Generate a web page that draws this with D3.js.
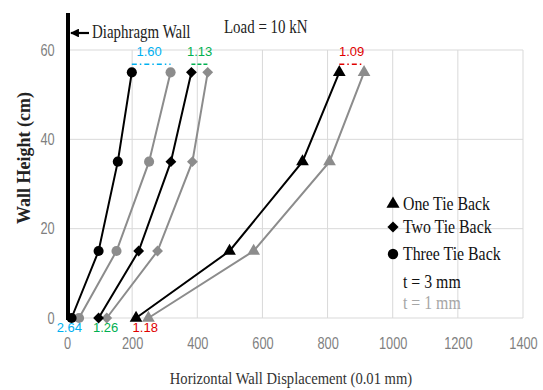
<!DOCTYPE html>
<html>
<head>
<meta charset="utf-8">
<script src="https://cdn.jsdelivr.net/npm/d3@7"></script>
<style>
  html, body { margin: 0; padding: 0; background: #fff; }
  svg { display: block; }
</style>
</head>
<body>
<svg id="chart" width="543" height="390"></svg>
<script>
// Wall heights at which displacements were measured (cm)
const heights = [0, 15, 35, 55];

// Horizontal wall displacement (0.01 mm), thick wall t = 3 mm
const oneTie3 = [212, 499, 723, 836];
const twoTie3 = [97, 220, 319, 382];
const threeTie3 = [14, 97, 156, 199];

// Horizontal wall displacement (0.01 mm), thin wall t = 1 mm
const oneTie1 = [250, 573, 806, 912];
const twoTie1 = [122, 278, 385, 432];
const threeTie1 = [37, 152, 252, 318];

const xTicks = [0, 200, 400, 600, 800, 1000, 1200, 1400];
const yTicks = [0, 20, 40, 60];

const seriesNames = ["One Tie Back", "Two Tie Back", "Three Tie Back"];
const thicknessLabels = ["t = 3 mm", "t = 1 mm"];
const ratioColors = ["#e00000", "#00b050", "#00b0f0"];

const svg = d3.select("#chart");

const x = d3.scaleLinear().domain([0, 1400]).range([67, 523]);
const y = d3.scaleLinear().domain([0, 60]).range([318, 50]);

const sans = "'Liberation Sans', Arial, sans-serif";
const serif = "'Liberation Serif', 'Times New Roman', serif";

// Text drawn with a horizontal squeeze (narrow typeface look)
function narrowText(parent, tx, ty, str, opts) {
  const o = Object.assign({ size: 18, sx: 0.84, fill: "#222", anchor: "start", family: serif, weight: "normal" }, opts);
  return parent.append("text")
    .attr("transform", `translate(${tx},${ty}) scale(${o.sx},1)`)
    .attr("text-anchor", o.anchor)
    .style("font-family", o.family).style("font-size", o.size + "px")
    .style("font-weight", o.weight)
    .attr("fill", o.fill)
    .text(str);
}

// Gridlines
const grid = svg.append("g");
grid.selectAll("line.v").data(xTicks.filter(d => d > 0)).join("line")
  .attr("x1", d => x(d)).attr("x2", d => x(d))
  .attr("y1", y(60)).attr("y2", y(0))
  .attr("stroke", "#d9d9d9").attr("stroke-width", 1);
grid.selectAll("line.h").data(yTicks).join("line")
  .attr("x1", x(0)).attr("x2", x(1400))
  .attr("y1", d => y(d)).attr("y2", d => y(d))
  .attr("stroke", "#d9d9d9").attr("stroke-width", 1);

// Axes (labels only, lines drawn by grid)
const xAxis = svg.append("g")
  .attr("transform", `translate(0,${y(0) + 17})`)
  .call(d3.axisBottom(x).tickValues(xTicks).tickSize(0).tickFormat(d3.format("d")));
const yAxis = svg.append("g")
  .attr("transform", `translate(${x(0) - 10},0)`)
  .call(d3.axisLeft(y).tickValues(yTicks).tickSize(0));
[xAxis, yAxis].forEach(a => {
  a.select(".domain").remove();
  a.selectAll("text").attr("fill", "#7f7f7f")
    .attr("transform", "scale(0.8,1)")
    .style("font-family", sans).style("font-size", "16px");
});

// Axis titles
narrowText(svg, 291, 384, "Horizontal Wall Displacement (0.01 mm)",
  { size: 17, sx: 0.86, anchor: "middle", fill: "#333" });
svg.append("text")
  .attr("transform", `translate(30,158) rotate(-90)`)
  .attr("text-anchor", "middle")
  .style("font-family", serif).style("font-size", "18px").style("font-weight", "bold")
  .attr("fill", "#222")
  .text("Wall Height (cm)");

// Diaphragm wall
svg.append("line")
  .attr("x1", x(0) + 1).attr("x2", x(0) + 1)
  .attr("y1", 13).attr("y2", y(0) + 2)
  .attr("stroke", "#000").attr("stroke-width", 4);
svg.append("defs").append("marker")
  .attr("id", "arrow").attr("viewBox", "0 0 10 10")
  .attr("refX", 9).attr("refY", 5)
  .attr("markerWidth", 4).attr("markerHeight", 4)
  .attr("orient", "auto")
  .append("path").attr("d", "M0,0 L10,5 L0,10 z").attr("fill", "#000");
svg.append("line")
  .attr("x1", 89).attr("x2", 71)
  .attr("y1", 33).attr("y2", 33)
  .attr("stroke", "#000").attr("stroke-width", 2.2)
  .attr("marker-end", "url(#arrow)");
narrowText(svg, 92, 38, "Diaphragm Wall", { size: 18, sx: 0.83 });
narrowText(svg, 224, 33, "Load = 10 kN", { size: 18, sx: 0.83 });

// Marker shapes
const symbols = [d3.symbolTriangle, d3.symbolDiamond2 || d3.symbolDiamond, d3.symbolCircle];
const symbolSizes = [70, 75, 80];

const groups = [
  { idx: 0, thick: oneTie3, thin: oneTie1 },
  { idx: 1, thick: twoTie3, thin: twoTie1 },
  { idx: 2, thick: threeTie3, thin: threeTie1 }
];

const line = d3.line().x(d => x(d[0])).y(d => y(d[1]));

function drawSeries(values, color, idx) {
  const pts = values.map((v, i) => [v, heights[i]]);
  svg.append("path").datum(pts)
    .attr("d", line).attr("fill", "none")
    .attr("stroke", color).attr("stroke-width", 2);
  svg.append("g").selectAll("path").data(pts).join("path")
    .attr("transform", d => `translate(${x(d[0])},${y(d[1])})`)
    .attr("d", d3.symbol().type(symbols[idx]).size(symbolSizes[idx]))
    .attr("fill", color);
}

groups.forEach(g => {
  drawSeries(g.thin, "#8c8c8c", g.idx);
  drawSeries(g.thick, "#000", g.idx);
});

// Ratio of thin to thick wall displacement at top and bottom
const fmt = d3.format(".2f");
const botShift = [3, 3, -6];
groups.forEach(g => {
  const c = ratioColors[g.idx];
  const last = heights.length - 1;
  const top = g.thin[last] / g.thick[last];
  const bot = g.thin[0] / g.thick[0];
  svg.append("line")
    .attr("x1", x(g.thick[last])).attr("x2", x(g.thin[last]))
    .attr("y1", y(heights[last]) - 8).attr("y2", y(heights[last]) - 8)
    .attr("stroke", c).attr("stroke-width", 1.5)
    .attr("stroke-dasharray", g.idx === 1 ? "4,2" : "5,3,1.5,3");
  svg.append("text")
    .attr("x", (x(g.thick[last]) + x(g.thin[last])) / 2 + (g.idx === 2 ? -2 : 0))
    .attr("y", y(heights[last]) - 16)
    .attr("text-anchor", "middle")
    .style("font-family", sans).style("font-size", "13px")
    .attr("fill", c)
    .text(fmt(top));
  svg.append("text")
    .attr("x", (x(g.thick[0]) + x(g.thin[0])) / 2 + botShift[g.idx])
    .attr("y", y(0) + 14)
    .attr("text-anchor", "middle")
    .style("font-family", sans).style("font-size", "13px")
    .attr("fill", c)
    .text(fmt(bot));
});

// Legend
const legend = svg.append("g").attr("transform", "translate(393,0)");
const legendY = [209, 232, 259];
seriesNames.forEach((name, i) => {
  legend.append("path")
    .attr("transform", `translate(0,${legendY[i] - 5})`)
    .attr("d", d3.symbol().type(symbols[i]).size(symbolSizes[i] + 5))
    .attr("fill", "#000");
  narrowText(legend, 10, legendY[i] + 1, name, { size: 18, sx: 0.88, fill: "#111" });
});
narrowText(legend, 10, 288, thicknessLabels[0], { size: 18, sx: 0.88, fill: "#111" });
narrowText(legend, 10, 309, thicknessLabels[1], { size: 18, sx: 0.88, fill: "#a6a6a6" });
</script>
</body>
</html>
